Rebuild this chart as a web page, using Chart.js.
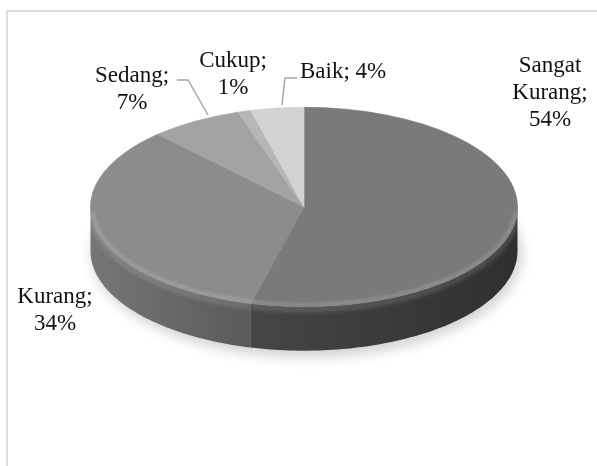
<!DOCTYPE html>
<html>
<head>
<meta charset="utf-8">
<script src="https://cdn.jsdelivr.net/npm/chart.js@4/dist/chart.umd.min.js"></script>
<style>
    html, body { margin: 0; padding: 0; background: #fff; }
    #wrap { position: relative; width: 597px; height: 466px; overflow: hidden; }
    #frame { position: absolute; left: 6px; top: 10px; right: 0; bottom: 0;
             border-left: 2px solid #dcdcdc; border-top: 2px solid #dcdcdc; }
    canvas { position: absolute; left: 0; top: 0; }
</style>
</head>
<body>
<div id="wrap">
    <div id="frame"></div>
    <canvas id="pieChart" width="597" height="466"></canvas>
</div>
<script>
// data
const categories = ['Sangat Kurang', 'Kurang', 'Sedang', 'Cukup', 'Baik'];
const percentages = [54, 34, 7, 1, 4];

// warna permukaan atas dan sisi (terang -> gelap)
const topColors = ['#7a7a7a', '#8c8c8c', '#a3a3a3', '#b6b6b6', '#d2d2d2'];
const sideColors = [['#464646', '#2f2f2f'], ['#767676', '#5a5a5a'], ['#8a8a8a', '#7a7a7a'],
                    ['#9a9a9a', '#8a8a8a'], ['#b0b0b0', '#a0a0a0']];

// posisi label (x, baseline pertama, rata, pecah per kata?)
const labelLayout = [
    { x: 550, y: 72, align: 'center', split: true },
    { x: 55, y: 303, align: 'center', split: true },
    { x: 132, y: 82, align: 'center', split: true },
    { x: 233, y: 67, align: 'center', split: true },
    { x: 300, y: 78, align: 'left', split: false }
];
const leaderLines = [
    [[177, 80], [188, 80], [208, 115]],
    [[297, 78], [285, 78], [282, 105]]
];

const FACE_Y = 207;   // pusat elips di layar
const TILT = 0.467;   // rasio tinggi/lebar elips
const DEPTH = 44;     // tebal pie

function ellipsePt(cx, cy, R, ry, t) {
    return [cx + R * Math.cos(t), cy + ry * Math.sin(t)];
}

const pie3d = {
    id: 'pie3d',
    beforeDatasetsDraw(chart) {
        const ctx = chart.ctx;
        const arcs = chart.getDatasetMeta(0).data;
        const cx = arcs[0].x, cy = arcs[0].y, R = arcs[0].outerRadius;
        const ry = R * TILT;

        // bayangan di bawah pie
        ctx.save();
        ctx.filter = 'blur(6px)';
        ctx.fillStyle = 'rgba(0,0,0,0.17)';
        ctx.beginPath();
        ctx.ellipse(cx + 3, FACE_Y + DEPTH + 3, R + 2, ry + 4, 0, 0, Math.PI * 2);
        ctx.fill();
        ctx.restore();

        // sisi depan tiap irisan
        arcs.forEach((arc, i) => {
            const t0 = Math.max(arc.startAngle, 0);
            const t1 = Math.min(arc.endAngle, Math.PI);
            if (t1 <= t0) return;
            const steps = 80;
            ctx.save();
            ctx.beginPath();
            for (let s = 0; s <= steps; s++) {
                const t = t0 + (t1 - t0) * s / steps;
                const p = ellipsePt(cx, FACE_Y, R, ry, t);
                s === 0 ? ctx.moveTo(p[0], p[1]) : ctx.lineTo(p[0], p[1]);
            }
            for (let s = steps; s >= 0; s--) {
                const t = t0 + (t1 - t0) * s / steps;
                const p = ellipsePt(cx, FACE_Y, R, ry, t);
                ctx.lineTo(p[0], p[1] + DEPTH);
            }
            ctx.closePath();
            const xa = ellipsePt(cx, FACE_Y, R, ry, t1)[0];
            const xb = ellipsePt(cx, FACE_Y, R, ry, t0)[0];
            const g = ctx.createLinearGradient(Math.min(xa, xb), 0, Math.max(xa, xb), 0);
            g.addColorStop(0, sideColors[i][0]);
            g.addColorStop(1, sideColors[i][1]);
            ctx.fillStyle = g;
            ctx.fill();

            // sorotan tepi atas (bevel)
            ctx.clip();
            ctx.beginPath();
            for (let s = 0; s <= steps; s++) {
                const t = t0 + (t1 - t0) * s / steps;
                const p = ellipsePt(cx, FACE_Y, R, ry, t);
                s === 0 ? ctx.moveTo(p[0], p[1] + 3) : ctx.lineTo(p[0], p[1] + 3);
            }
            ctx.strokeStyle = 'rgba(255,255,255,0.16)';
            ctx.lineWidth = 5;
            ctx.filter = 'blur(2px)';
            ctx.stroke();
            ctx.restore();
        });

        // permukaan atas: skala vertikal
        ctx.save();
        ctx.translate(0, FACE_Y);
        ctx.scale(1, TILT);
        ctx.translate(0, -cy);
    },
    afterDatasetsDraw(chart) {
        const ctx = chart.ctx;
        ctx.restore();
        const arcs = chart.getDatasetMeta(0).data;
        const cx = arcs[0].x, R = arcs[0].outerRadius;
        const ry = R * TILT;
        // kilau tipis di tepi depan permukaan atas
        ctx.save();
        ctx.beginPath();
        ctx.ellipse(cx, FACE_Y, R - 2, ry - 2, 0, 0.05, Math.PI - 0.05);
        ctx.strokeStyle = 'rgba(255,255,255,0.18)';
        ctx.lineWidth = 3;
        ctx.filter = 'blur(1.5px)';
        ctx.stroke();
        ctx.restore();
    },
    afterDraw(chart) {
        const ctx = chart.ctx;
        ctx.save();
        // garis penunjuk
        ctx.strokeStyle = '#a6a6a6';
        ctx.lineWidth = 1.5;
        leaderLines.forEach(pts => {
            ctx.beginPath();
            pts.forEach((p, k) => k === 0 ? ctx.moveTo(p[0], p[1]) : ctx.lineTo(p[0], p[1]));
            ctx.stroke();
        });
        // label
        ctx.fillStyle = '#111';
        ctx.font = '23px "Liberation Serif", "Times New Roman", serif';
        ctx.textBaseline = 'alphabetic';
        categories.forEach((cat, i) => {
            const lay = labelLayout[i];
            const text = cat + '; ' + percentages[i] + '%';
            const lines = lay.split ? (cat + '; ' + percentages[i] + '%').split(' ') : [text];
            ctx.textAlign = lay.align;
            lines.forEach((ln, k) => ctx.fillText(ln, lay.x, lay.y + k * 27));
        });
        ctx.restore();
    }
};

new Chart(document.getElementById('pieChart'), {
    type: 'pie',
    data: {
        labels: categories,
        datasets: [{
            data: percentages,
            backgroundColor: topColors,
            borderColor: topColors,
            borderWidth: 1,
            clip: false
        }]
    },
    options: {
        responsive: false,
        animation: false,
        layout: { padding: { left: 90, right: 79, top: 19, bottom: 19 } },
        plugins: {
            legend: { display: false },
            tooltip: { enabled: false }
        }
    },
    plugins: [pie3d]
});
</script>
</body>
</html>
